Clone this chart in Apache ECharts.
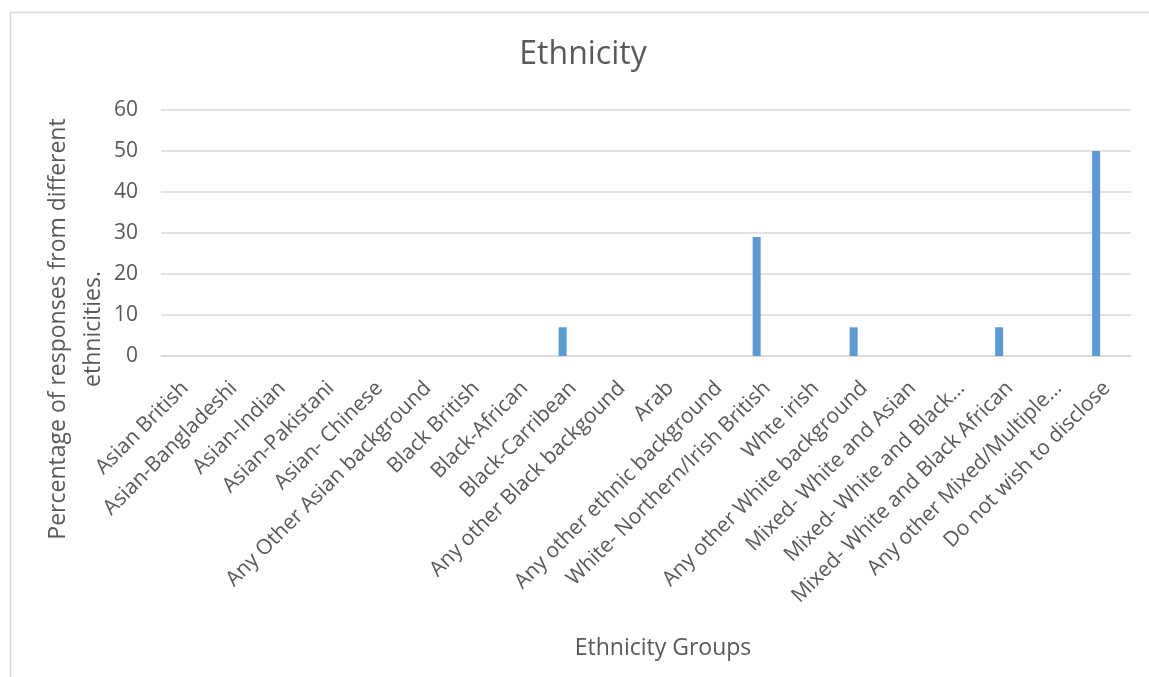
<!DOCTYPE html>
<html>
<head>
<meta charset="utf-8">
<script src="https://cdn.jsdelivr.net/npm/echarts@6/dist/echarts.min.js"></script>
<style>
html,body{margin:0;padding:0;background:#fff;}
#chart{width:1149px;height:677px;}
</style>
</head>
<body>
<div id="chart"></div>
<script>
const categories = [
  "Asian British", "Asian-Bangladeshi", "Asian-Indian", "Asian-Pakistani", "Asian- Chinese",
  "Any Other Asian background", "Black British", "Black-African", "Black-Carribean",
  "Any other Black backgound", "Arab", "Any other ethnic background",
  "White- Northern/Irish British", "Whte irish", "Any other White background",
  "Mixed- White and Asian", "Mixed- White and Black…", "Mixed- White and Black African",
  "Any other Mixed/Multiple…", "Do not wish to disclose"
];
const percentages = [0, 0, 0, 0, 0, 0, 0, 0, 7, 0, 0, 0, 29, 0, 7, 0, 0, 7, 0, 50];
const emptySeries = categories.map(() => null);
const yTicks = { min: 0, max: 60, interval: 10 };
const chartTitle = 'Ethnicity';
const xTitle = 'Ethnicity Groups';
const yTitle = 'Percentage of responses from different\nethnicities.';

const font = "'Open Sans', 'Noto Sans', sans-serif";
const chart = echarts.init(document.getElementById('chart'), null, { renderer: 'canvas' });
chart.setOption({
  animation: false,
  backgroundColor: '#ffffff',
  graphic: [
    {
      type: 'rect', left: 8, top: 10,
      shape: { width: 1200, height: 720 },
      style: { fill: 'none', stroke: '#d9d9d9', lineWidth: 1.5 }
    },
    {
      type: 'text', x: 76, y: 329, rotation: Math.PI / 2,
      style: {
        text: yTitle, fontFamily: font, fontSize: 23, fill: '#595959',
        textAlign: 'center', textVerticalAlign: 'middle', lineHeight: 35
      }
    },
    {
      type: 'text', x: 663, y: 648,
      style: {
        text: xTitle, fontFamily: font, fontSize: 23, fill: '#595959',
        textAlign: 'center', textVerticalAlign: 'middle'
      }
    }
  ],
  title: {
    text: chartTitle, left: 578, top: 34, textAlign: 'center',
    textStyle: { fontFamily: font, fontSize: 32, fontWeight: 'normal', color: '#595959' }
  },
  grid: { left: 161, right: 18, top: 110, bottom: 321, containLabel: false },
  xAxis: {
    type: 'category', data: categories,
    axisLine: { show: true, lineStyle: { color: '#d9d9d9', width: 1.5 } },
    axisTick: { show: false },
    axisLabel: { interval: 0, rotate: 45, margin: 29, fontFamily: font, fontSize: 21, color: '#595959' }
  },
  yAxis: {
    type: 'value', min: yTicks.min, max: yTicks.max, interval: yTicks.interval,
    axisLine: { show: false }, axisTick: { show: false },
    axisLabel: { margin: 23, fontFamily: font, fontSize: 21, color: '#595959' },
    splitLine: { lineStyle: { color: '#d9d9d9', width: 1.5 } }
  },
  series: [
    {
      name: 'Percentage', type: 'bar', data: percentages,
      barWidth: 8, barGap: '165%',
      itemStyle: { color: '#5b9bd5' }
    },
    {
      name: 'blank', type: 'bar', data: emptySeries, barWidth: 8,
      itemStyle: { color: '#ed7d31' }
    }
  ]
});
</script>
</body>
</html>
